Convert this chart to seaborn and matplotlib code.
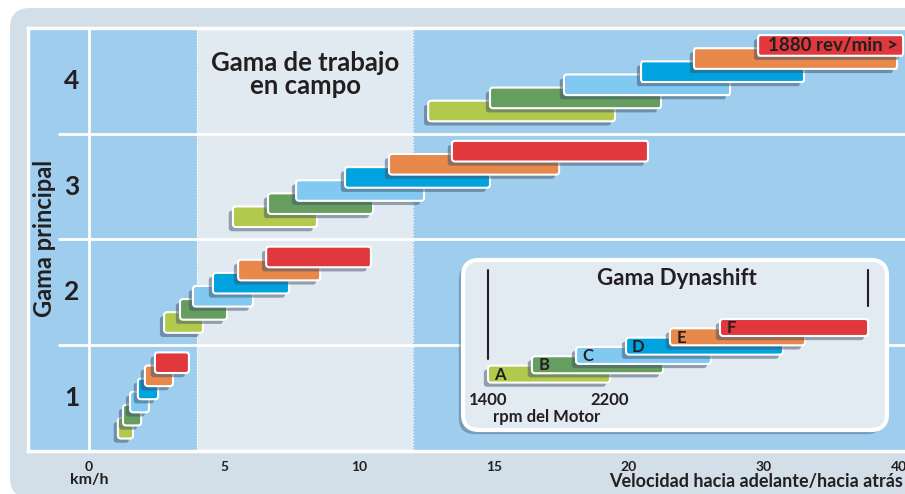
import numpy as np
import matplotlib
matplotlib.use('Agg')
import matplotlib.pyplot as plt
import matplotlib.patheffects as pe
from matplotlib.patches import FancyBboxPatch
from matplotlib.transforms import IdentityTransform
import seaborn as sns

# Gamas principales y pasos Dynashift
gamas = [1, 2, 3, 4]
pasos = ['A', 'B', 'C', 'D', 'E', 'F']

# Velocidad (km/h) inicio / fin de cada paso, por gama
g1_ini = [1.07, 1.26, 1.52, 1.81, 2.07, 2.44]
g1_fin = [1.63, 1.93, 2.22, 2.56, 3.11, 3.70]
g2_ini = [2.78, 3.37, 3.85, 4.59, 5.52, 6.56]
g2_fin = [4.22, 5.11, 6.07, 7.41, 8.56, 10.44]
g3_ini = [5.33, 6.63, 7.67, 9.48, 11.11, 13.44]
g3_fin = [8.44, 10.52, 12.41, 14.85, 17.41, 21.4]
g4_ini = [12.56, 14.85, 17.59, 20.89, 24.81, 29.56]
g4_fin = [19.48, 22.37, 27.48, 32.96, 39.85, 40.3]

# Gama de trabajo en campo (km/h)
campo = [4, 12]

# Recuadro Dynashift (rpm del motor, escala relativa)
dyn_ini = [1400, 1688, 1977, 2305, 2593, 2921]
dyn_fin = [2200, 2548, 2862, 3334, 3479, 3892]
rpm_ticks = [1400, 2200]

x_major = [0, 5, 10, 15, 20, 30, 40]
x_minor = list(range(1, 20)) + list(range(22, 40, 2))

colores = ['#b1c94c', '#669e5f', '#82c9f1', '#00a2e0', '#e8884b', '#e0383c']
TXT = '#231f20'


def fwd(x):
    x = np.asarray(x, dtype=float)
    return np.where(x <= 20, x, 20 + (x - 20) / 2)


def inv(y):
    y = np.asarray(y, dtype=float)
    return np.where(y <= 20, y, 20 + (y - 20) * 2)


def sombra(alpha=0.5):
    return [pe.SimplePatchShadow(offset=(-3, -3), shadow_rgbFace='#3f5268', alpha=alpha),
            pe.Normal()]


def main():
    sns.set_style('white')
    plt.rcParams['font.family'] = ['Lato', 'DejaVu Sans']
    paleta = sns.color_palette(colores)

    fig = plt.figure(figsize=(9.05, 4.94), dpi=100)
    fig.patch.set_facecolor('white')
    marco = FancyBboxPatch((10, -4), 960, 490, boxstyle='round,pad=0,rounding_size=20',
                           transform=IdentityTransform(), fc='#d3dfe8', ec='none',
                           zorder=-10)
    fig.patches.append(marco)

    ax = fig.add_axes([28 / 905, 43 / 494, 877 / 905, 423 / 494])
    ax.set_xscale('function', functions=(fwd, inv))
    ax.set_xlim(-2.26, 40.44)
    ax.set_ylim(0.5, 4.5)
    ax.set_facecolor('#9ecdee')
    ax.axvspan(campo[0], campo[1], color='#e1e9f1', zorder=0, lw=0)
    for c in campo:
        ax.axvline(c, color='white', lw=0.9, ls=(0, (1, 1.5)), zorder=1)
    ax.axvline(0, color='white', lw=2, zorder=1)
    ax.hlines([1.5, 2.5, 3.5], -1.15, 40.44, color='white', lw=2, zorder=1)

    for s in ['top', 'left', 'bottom']:
        ax.spines[s].set_color('white')
        ax.spines[s].set_linewidth(2.5)
    ax.spines['right'].set_visible(False)

    ax.set_xticks(x_major)
    ax.set_xticklabels([str(v) for v in x_major])
    ax.set_xticks(x_minor, minor=True)
    ax.tick_params(axis='x', which='both', direction='out', length=4, width=1.5,
                   color='white', pad=3, labelsize=10, labelcolor=TXT)
    for t in ax.get_xticklabels():
        t.set_fontweight('bold')
    ax.set_yticks([])

    inicios = [g1_ini, g2_ini, g3_ini, g4_ini]
    finales = [g1_fin, g2_fin, g3_fin, g4_fin]
    alto = 0.195
    for g, ini, fin in zip(gamas, inicios, finales):
        for k, (a, b) in enumerate(zip(ini, fin)):
            yc = g - 0.5 + 0.215 + k * 0.124
            barra = FancyBboxPatch((a, yc - alto / 2), b - a, alto,
                                   boxstyle='round,pad=0,rounding_size=0.12',
                                   mutation_aspect=0.25, fc=paleta[k], ec='white',
                                   lw=1.5, zorder=3 + k, path_effects=sombra())
            ax.add_patch(barra)
        ax.text(-0.63, g, str(g), ha='center', va='center', fontsize=19,
                fontweight='bold', color=TXT)

    yc_top = gamas[-1] - 0.5 + 0.215 + 5 * 0.124
    ax.annotate('1880 rev/min >', xy=(g4_fin[-1], yc_top), xytext=(-4, 0),
                textcoords='offset points', ha='right', va='center', fontsize=13.5,
                fontweight='bold', color=TXT, zorder=20)

    ax.text(8, 4.06, 'Gama de trabajo\nen campo', ha='center', va='center',
            fontsize=18.5, fontweight='bold', color=TXT, linespacing=0.95)
    fig.text(45 / 905, 1 - 238 / 494, 'Gama principal', rotation=90, ha='center',
             va='center', fontsize=17, fontweight='bold', color=TXT)
    ax.annotate('km/h', xy=(0, 0), xycoords=('data', 'axes fraction'),
                xytext=(0, -29), textcoords='offset pixels', ha='center',
                va='center', fontsize=11.5, fontweight='bold', color=TXT)
    fig.text(903 / 905, 1 - 481 / 494, 'Velocidad hacia adelante/hacia atrás',
             ha='right', va='center', fontsize=13, fontweight='bold', color=TXT)

    # Recuadro Gama Dynashift
    axi = fig.add_axes([463 / 905, 64 / 494, 424 / 905, 170 / 494])
    axi.set_axis_off()
    axi.set_xlim(1236, 4016)
    axi.set_ylim(0, 1)
    caja = FancyBboxPatch((0, 0), 1, 1, boxstyle='round,pad=0,rounding_size=0.038',
                          mutation_aspect=424 / 170, transform=axi.transAxes,
                          fc='#e2eaf2', ec='white', lw=3, clip_on=False,
                          path_effects=sombra(0.4))
    axi.add_patch(caja)
    h = 0.1
    for k, (a, b, p) in enumerate(zip(dyn_ini, dyn_fin, pasos)):
        yc = 0.329 + k * 0.0548
        barra = FancyBboxPatch((a, yc - h / 2), b - a, h,
                               boxstyle='round,pad=0,rounding_size=20',
                               mutation_aspect=0.00088, fc=paleta[k], ec='white',
                               lw=1.5, zorder=3 + k, path_effects=sombra())
        axi.add_patch(barra)
        axi.annotate(p, xy=(a, yc), xytext=(8.5, -0.5), textcoords='offset points',
                     ha='center', va='center', fontsize=12, fontweight='bold',
                     color=TXT, zorder=3 + k)
    axi.plot([dyn_ini[0], dyn_ini[0]], [0.418, 0.941], color=TXT, lw=1.5)
    axi.plot([dyn_fin[-1], dyn_fin[-1]], [0.729, 0.941], color=TXT, lw=1.5)
    for r in rpm_ticks:
        axi.text(r, 0.176, str(r), ha='center', va='center', fontsize=12,
                 fontweight='bold', color=TXT)
    axi.text(1430, 0.076, 'rpm del Motor', ha='left', va='center', fontsize=12,
             fontweight='bold', color=TXT)
    axi.text(0.505, 0.894, 'Gama Dynashift', transform=axi.transAxes, ha='center',
             va='center', fontsize=16, fontweight='bold', color=TXT)

    fig.savefig('out.png', dpi=100)
    plt.close(fig)


if __name__ == '__main__':
    main()
